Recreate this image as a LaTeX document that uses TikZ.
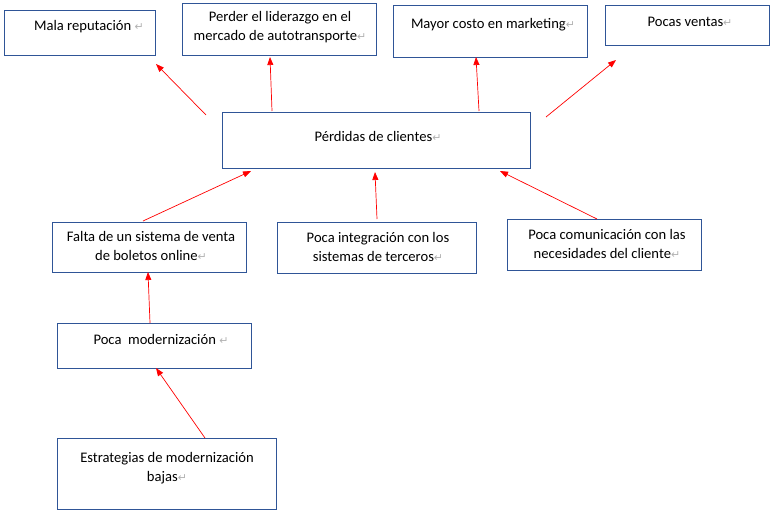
\documentclass[tikz,border=0pt]{standalone}
\usepackage{fontspec}
\setmainfont{Carlito}
\newfontfamily\dejavu{DejaVu Sans}
\usetikzlibrary{arrows.meta}
\definecolor{boxblue}{HTML}{2F5597}
\definecolor{arrred}{HTML}{FF0000}
\newcommand\ret{{\color{gray!60}\dejavu\fontsize{11}{11}\selectfont ↵}}
\tikzset{
  box/.style={draw=boxblue, line width=1pt, rectangle, inner sep=0pt},
  txt/.style={inner sep=0pt, align=center, font=\fontsize{14.6}{19}\selectfont},
  arr/.style={draw=arrred, line width=0.7pt, -{Triangle[length=8pt,width=6pt]}}
}
\begin{document}
\begin{tikzpicture}[x=1pt,y=-1pt]
\useasboundingbox (0,0) rectangle (776,517);
% boxes
\node[box, minimum width=151pt, minimum height=45pt] (b1) at (79.5,32.5) {};
\node[box, minimum width=194pt, minimum height=52pt] (b2) at (279,29) {};
\node[box, minimum width=194pt, minimum height=52pt] (b3) at (490,31) {};
\node[box, minimum width=164pt, minimum height=40pt] (b4) at (687,25) {};
\node[box, minimum width=308pt, minimum height=56pt] (b5) at (376,140) {};
\node[box, minimum width=194pt, minimum height=50pt] (b6) at (149,247) {};
\node[box, minimum width=199pt, minimum height=51pt] (b7) at (376.5,247.5) {};
\node[box, minimum width=194pt, minimum height=51pt] (b8) at (604,244.5) {};
\node[box, minimum width=194pt, minimum height=45pt] (b9) at (154,345.5) {};
\node[box, minimum width=219pt, minimum height=71pt] (b10) at (166.5,473.5) {};
% texts
\node[txt] (t1) at (89,27) {Mala reputación \ret};
\node[txt] (t2) at (280,27) {Perder el liderazgo en el\\mercado de autotransporte\ret};
\node[txt] (t3) at (493,25) {Mayor costo en marketing\ret};
\node[txt] (t4) at (690,22) {Pocas ventas\ret};
\node[txt] (t5) at (378,136) {Pérdidas de clientes\ret};
\node[txt] (t6) at (151,245.5) {Falta de un sistema de venta\\de boletos online\ret};
\node[txt] (t7) at (378,246.5) {Poca integración con los\\sistemas de terceros\ret};
\node[txt] (t8) at (607,243.5) {Poca comunicación con las\\necesidades del cliente\ret};
\node[txt] (t9) at (161,339) {Poca\ \ modernización \ret};
\node[txt] (t10) at (167,468.5) {Estrategias de modernización\\bajas\ret};
% arrow ends
\coordinate (a1s) at (206,115); \coordinate (a1e) at (156,64);
\coordinate (a2s) at (272,111); \coordinate (a2e) at (270,57);
\coordinate (a3s) at (479,111); \coordinate (a3e) at (476,57);
\coordinate (a4s) at (546,117); \coordinate (a4e) at (616,60);
\coordinate (a5s) at (143,221); \coordinate (a5e) at (251,171);
\coordinate (a6s) at (377,219); \coordinate (a6e) at (375,172);
\coordinate (a7s) at (597,219); \coordinate (a7e) at (500,171);
\coordinate (a8s) at (150,323); \coordinate (a8e) at (148,272);
\coordinate (a9s) at (205,438); \coordinate (a9e) at (156,368);
\draw[arr] (a1s) -- (a1e);
\draw[arr] (a2s) -- (a2e);
\draw[arr] (a3s) -- (a3e);
\draw[arr] (a4s) -- (a4e);
\draw[arr] (a5s) -- (a5e);
\draw[arr] (a6s) -- (a6e);
\draw[arr] (a7s) -- (a7e);
\draw[arr] (a8s) -- (a8e);
\draw[arr] (a9s) -- (a9e);
\end{tikzpicture}
\end{document}
